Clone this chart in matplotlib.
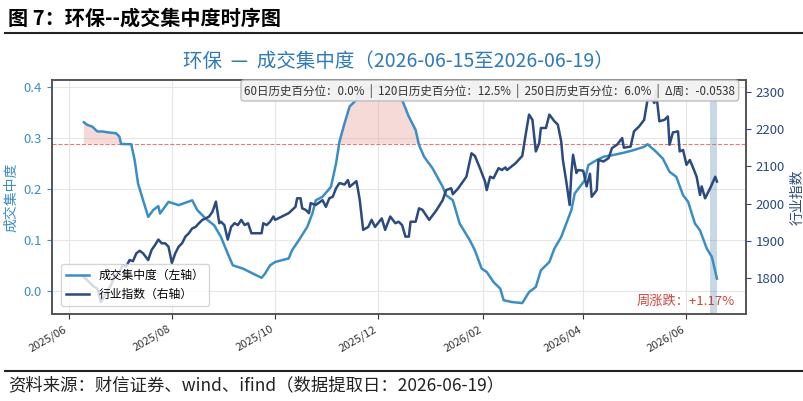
import matplotlib
matplotlib.use('Agg')
import matplotlib.pyplot as plt
import matplotlib.dates as mdates
import numpy as np
import pandas as pd

plt.rcParams['font.family'] = ['Noto Sans CJK SC', 'DejaVu Sans']
plt.rcParams['axes.unicode_minus'] = False

# concentration (left axis)
conc_dates = ['2025-06-10', '2025-06-12', '2025-06-15', '2025-06-18', '2025-06-21', '2025-06-25',
              '2025-06-29', '2025-07-01', '2025-07-02', '2025-07-08', '2025-07-10', '2025-07-12',
              '2025-07-15', '2025-07-18', '2025-07-21', '2025-07-24', '2025-07-25', '2025-07-30',
              '2025-08-05', '2025-08-13', '2025-08-16', '2025-08-21', '2025-08-26', '2025-08-30',
              '2025-09-03', '2025-09-06', '2025-09-12', '2025-09-18', '2025-09-23', '2025-09-25',
              '2025-09-28', '2025-10-01', '2025-10-09', '2025-10-11', '2025-10-15', '2025-10-20',
              '2025-10-23', '2025-10-25', '2025-10-29', '2025-11-03', '2025-11-06', '2025-11-08',
              '2025-11-11', '2025-11-14', '2025-11-18', '2025-11-23', '2025-12-03', '2025-12-12',
              '2025-12-15', '2025-12-19', '2025-12-23', '2025-12-25', '2025-12-28', '2026-01-02',
              '2026-01-08', '2026-01-10', '2026-01-14', '2026-01-18', '2026-01-24', '2026-01-27',
              '2026-01-31', '2026-02-03', '2026-02-07', '2026-02-11', '2026-02-13', '2026-02-18',
              '2026-02-24', '2026-02-28', '2026-03-04', '2026-03-07', '2026-03-12', '2026-03-15',
              '2026-03-19', '2026-03-22', '2026-03-25', '2026-03-27', '2026-03-30', '2026-04-02',
              '2026-04-04', '2026-04-09', '2026-04-13', '2026-04-19', '2026-04-25', '2026-05-01',
              '2026-05-07', '2026-05-09', '2026-05-14', '2026-05-18', '2026-05-22', '2026-05-26',
              '2026-05-30', '2026-06-02', '2026-06-06', '2026-06-09', '2026-06-13', '2026-06-16',
              '2026-06-19']
conc_values = [0.331, 0.326, 0.3225, 0.313, 0.313, 0.311, 0.3095, 0.303, 0.2885, 0.288, 0.257, 0.211,
               0.178, 0.1455, 0.159, 0.1666, 0.152, 0.175, 0.1685, 0.178, 0.159, 0.142, 0.129, 0.106,
               0.0735, 0.0505, 0.044, 0.034, 0.026, 0.034, 0.0505, 0.057, 0.064, 0.080, 0.0997, 0.126,
               0.152, 0.178, 0.185, 0.2045, 0.2505, 0.293, 0.329, 0.362, 0.375, 0.395, 0.405, 0.395,
               0.375, 0.342, 0.316, 0.2865, 0.2635, 0.2407, 0.2045, 0.188, 0.178, 0.1325, 0.0997, 0.080,
               0.044, 0.0374, 0.0177, 0.0047, -0.018, -0.0216, -0.0236, -0.002, 0.008, 0.0407, 0.057, 0.0834,
               0.106, 0.1325, 0.1587, 0.1915, 0.2045, 0.2177, 0.247, 0.257, 0.2635, 0.267, 0.2714, 0.2767,
               0.283, 0.288, 0.2734, 0.260, 0.234, 0.224, 0.188, 0.175, 0.1325, 0.119, 0.0834, 0.0669,
               0.0244]

# industry index (right axis)
idx_dates = ['2025-06-10', '2025-06-13', '2025-06-16', '2025-06-18', '2025-06-20', '2025-06-23',
             '2025-06-26', '2025-06-28', '2025-07-01', '2025-07-03', '2025-07-05', '2025-07-07',
             '2025-07-09', '2025-07-11', '2025-07-13', '2025-07-15', '2025-07-18', '2025-07-20',
             '2025-07-22', '2025-07-24', '2025-07-26', '2025-07-28', '2025-07-30', '2025-08-01',
             '2025-08-03', '2025-08-05', '2025-08-07', '2025-08-09', '2025-08-11', '2025-08-13',
             '2025-08-15', '2025-08-17', '2025-08-19', '2025-08-21', '2025-08-23', '2025-08-25',
             '2025-08-27', '2025-08-29', '2025-08-30', '2025-09-01', '2025-09-03', '2025-09-05',
             '2025-09-07', '2025-09-09', '2025-09-11', '2025-09-13', '2025-09-15', '2025-09-17',
             '2025-09-23', '2025-09-24', '2025-09-26', '2025-09-28', '2025-09-30', '2025-10-01',
             '2025-10-05', '2025-10-09', '2025-10-13', '2025-10-14', '2025-10-16', '2025-10-17',
             '2025-10-19', '2025-10-21', '2025-10-22', '2025-10-25', '2025-10-29', '2025-10-31',
             '2025-11-02', '2025-11-04', '2025-11-06', '2025-11-08', '2025-11-11', '2025-11-13',
             '2025-11-14', '2025-11-18', '2025-11-19', '2025-11-20', '2025-11-22', '2025-11-25',
             '2025-11-27', '2025-11-29', '2025-12-03', '2025-12-05', '2025-12-08', '2025-12-11',
             '2025-12-13', '2025-12-15', '2025-12-17', '2025-12-19', '2025-12-20', '2025-12-23',
             '2025-12-25', '2025-12-27', '2025-12-31', '2026-01-04', '2026-01-08', '2026-01-10',
             '2026-01-13', '2026-01-14', '2026-01-17', '2026-01-22', '2026-01-25', '2026-01-27',
             '2026-01-30', '2026-02-02', '2026-02-03', '2026-02-05', '2026-02-07', '2026-02-10',
             '2026-02-12', '2026-02-14', '2026-02-15', '2026-02-20', '2026-02-24', '2026-02-26',
             '2026-02-28', '2026-03-02', '2026-03-04', '2026-03-06', '2026-03-07', '2026-03-10',
             '2026-03-12', '2026-03-15', '2026-03-17', '2026-03-19', '2026-03-20', '2026-03-22',
             '2026-03-24', '2026-03-25', '2026-03-26', '2026-03-28', '2026-03-29', '2026-04-01',
             '2026-04-03', '2026-04-05', '2026-04-06', '2026-04-09', '2026-04-10', '2026-04-13',
             '2026-04-16', '2026-04-18', '2026-04-21', '2026-04-24', '2026-04-25', '2026-04-29',
             '2026-05-01', '2026-05-04', '2026-05-07', '2026-05-09', '2026-05-12', '2026-05-13',
             '2026-05-14', '2026-05-16', '2026-05-19', '2026-05-21', '2026-05-22', '2026-05-24',
             '2026-05-27', '2026-05-28', '2026-05-30', '2026-06-01', '2026-06-03', '2026-06-05',
             '2026-06-07', '2026-06-09', '2026-06-10', '2026-06-12', '2026-06-15', '2026-06-18',
             '2026-06-19']
idx_values = [1803, 1789, 1776, 1771, 1735, 1758,
              1780, 1803, 1816, 1834, 1830, 1848,
              1845, 1866, 1873, 1866, 1848, 1875,
              1888, 1903, 1893, 1893, 1884, 1840,
              1866, 1884, 1893, 1911, 1920, 1933,
              1937, 1947, 1956, 1960, 1965, 1978,
              2005, 1947, 1951, 1942, 1903, 1937,
              1947, 1942, 1956, 1942, 1947, 1920,
              1920, 1947, 1942, 1951, 1965, 1956,
              1965, 1974, 1991, 2014, 2014, 1987,
              1983, 1974, 2001, 1996, 2009, 1991,
              2014, 2018, 2041, 2055, 2051, 2063,
              2045, 2060, 2036, 2009, 1929, 1937,
              1956, 1937, 1960, 1929, 1965, 1947,
              1951, 1942, 1911, 1911, 1951, 1951,
              1987, 1983, 1956, 1980, 2009, 2036,
              2041, 2025, 2040, 2072, 2135, 2128,
              2095, 2059, 2036, 2072, 2068, 2095,
              2090, 2097, 2090, 2108, 2128, 2185,
              2239, 2225, 2140, 2162, 2203, 2203,
              2239, 2221, 2212, 2167, 2117, 2059,
              1996, 2082, 2131, 2082, 2090, 2088,
              2046, 2080, 2018, 2036, 2117, 2113,
              2122, 2149, 2158, 2176, 2150, 2153,
              2194, 2207, 2225, 2279, 2279, 2270,
              2302, 2221, 2225, 2234, 2158, 2191,
              2194, 2140, 2144, 2104, 2117, 2095,
              2072, 2023, 2046, 2014, 2041, 2072,
              2059]

threshold = 0.289
stats_text = '60日历史百分位：0.0%  |  120日历史百分位：12.5%  |  250日历史百分位：6.0%  |  Δ周：-0.0538'
week_change = '周涨跌：+1.17%'

c_conc = '#3b8ec4'
c_idx = '#2b4a7e'

cd = pd.to_datetime(conc_dates)
cv = np.array(conc_values)
idd = pd.to_datetime(idx_dates)
iv = np.array(idx_values)

fig = plt.figure(figsize=(8.04, 4.01), dpi=100)
ax = fig.add_axes([0.0643, 0.217, 0.8632, 0.5835])
ax2 = ax.twinx()

l1, = ax.plot(cd, cv, color=c_conc, lw=1.8, label='成交集中度（左轴）', zorder=3)
ax.axhline(threshold, color='#e06c6c', ls='--', lw=0.8, alpha=0.9, zorder=2)
ax.fill_between(cd, cv, threshold, where=cv > threshold, interpolate=True,
                color='#e9a49f', alpha=0.4, lw=0, zorder=1)
l2, = ax2.plot(idd, iv, color=c_idx, lw=1.8, label='行业指数（右轴）', zorder=3)
ax.axvspan(pd.Timestamp('2026-06-15'), pd.Timestamp('2026-06-19'), color='#4a7fb0', alpha=0.3, lw=0)

ax.set_xlim(pd.Timestamp('2025-05-22'), pd.Timestamp('2026-07-06'))
ax.set_ylim(-0.045, 0.414)
ax2.set_ylim(1703, 2332)
ax.set_yticks([0.0, 0.1, 0.2, 0.3, 0.4])
ax.set_yticklabels(['0.0', '0.1', '0.2', '0.3', '0.4'])
ax2.set_yticks([1800, 1900, 2000, 2100, 2200, 2300])

ax.xaxis.set_major_locator(mdates.MonthLocator(bymonth=[2, 4, 6, 8, 10, 12]))
ax.xaxis.set_major_formatter(mdates.DateFormatter('%Y/%m'))
for lab in ax.get_xticklabels():
    lab.set_rotation(30)
    lab.set_ha('right')
ax.tick_params(axis='x', labelsize=8, colors='#333333')
ax.tick_params(axis='y', labelsize=9.5, colors=c_conc)
ax2.tick_params(axis='y', labelsize=9.5, colors=c_idx)
ax.grid(True, color='#e6e6e6', lw=0.8)
ax.set_axisbelow(True)

for a in (ax, ax2):
    for s in a.spines.values():
        s.set_color('#555555')
        s.set_linewidth(1.2)

ax.set_ylabel('成交集中度', color=c_conc, fontsize=10)
ax2.set_ylabel('行业指数', color=c_idx, fontsize=10)

ax.set_title('环保  —  成交集中度（2026-06-15至2026-06-19）', color='#2f7ab8', fontsize=14, pad=9)

ax2.text(0.985, 0.985, stats_text, transform=ax2.transAxes, ha='right', va='top', fontsize=8.3,
         color='#333333', zorder=10,
         bbox=dict(boxstyle='round,pad=0.3', facecolor='#f2f2f2', edgecolor='#bbbbbb', alpha=0.95))
ax2.text(0.985, 0.025, week_change, transform=ax2.transAxes, ha='right', va='bottom',
         fontsize=9.5, color='#d0463c', zorder=10)

leg = ax2.legend([l1, l2], [l1.get_label(), l2.get_label()], loc='lower left', fontsize=8.5,
                 framealpha=0.8, edgecolor='#cccccc', bbox_to_anchor=(0.005, 0.01))

# header / footer
fig.text(0.01, 0.955, '图 7：环保--成交集中度时序图', fontsize=14.5, fontweight='bold', va='center')
fig.add_artist(plt.Line2D([0.006, 0.997], [0.918, 0.918], color='#222222', lw=1.5))
fig.add_artist(plt.Line2D([0.006, 0.997], [0.075, 0.075], color='#222222', lw=1.5))
fig.text(0.01, 0.04, '资料来源：财信证券、wind、ifind（数据提取日：2026-06-19）', fontsize=12.5,
         style='italic', va='center', color='#222222')

fig.savefig('out.png', dpi=100)
